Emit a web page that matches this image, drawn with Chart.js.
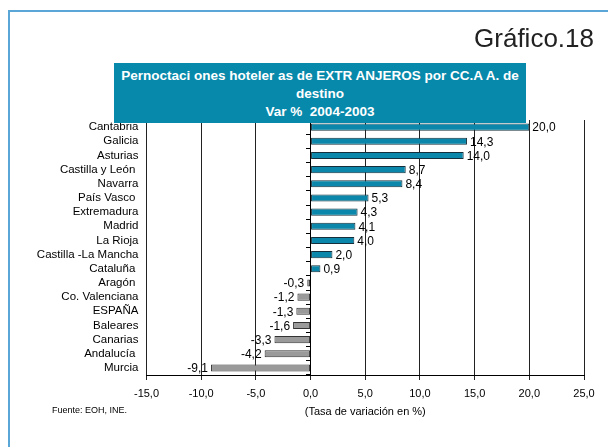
<!DOCTYPE html>
<html>
<head>
<meta charset="utf-8">
<script src="https://cdn.jsdelivr.net/npm/chart.js@4/dist/chart.umd.min.js"></script>
<style>
  html, body { margin: 0; padding: 0; background: #fff; }
  body { width: 608px; height: 447px; position: relative; overflow: hidden; font-family: "Liberation Sans", Arial, sans-serif; }
  #frame { position: absolute; left: 8px; top: 10px; width: 700px; height: 600px; border-left: 2px solid #5aa6d6; border-top: 2px solid #5aa6d6; box-sizing: border-box; }
  #wrap { position: absolute; left: 0; top: 0; width: 608px; height: 447px; }
  #num { position: absolute; right: 14px; top: 25px; font-size: 26px; color: #222; line-height: 1; }
  #titlebox { position: absolute; left: 114px; top: 63px; width: 412px; height: 60px; background: #0789ab; color: #fff; font-weight: bold; font-size: 13.5px; text-align: center; line-height: 18px; padding-top: 4px; box-sizing: border-box; white-space: nowrap; }
  #src { position: absolute; left: 52px; top: 405px; font-size: 9px; color: #000; }
</style>
</head>
<body>
<div id="frame"></div>
<div id="wrap"><canvas id="c" width="608" height="447"></canvas></div>
<div id="num">Gráfico.18</div>
<div id="titlebox">Pernoctaci ones hoteler as de EXTR ANJEROS por CC.A A. de<br>destino<br>Var %&nbsp; 2004-2003</div>
<div id="src">Fuente: EOH, INE.</div>
<script>
const categories = ["Cantabria", "Galicia", "Asturias", "Castilla y León ", "Navarra", "País Vasco ", "Extremadura", "Madrid", "La Rioja", "Castilla -La Mancha", "Cataluña ", "Aragón ", "Co. Valenciana", "ESPAÑA", "Baleares", "Canarias", "Andalucía ", "Murcia"];
const values = [20.0, 14.3, 14.0, 8.7, 8.4, 5.3, 4.3, 4.1, 4.0, 2.0, 0.9, -0.3, -1.2, -1.3, -1.6, -3.3, -4.2, -9.1];
const xTicks = [-15, -10, -5, 0, 5, 10, 15, 20, 25];
const axisTitle = "(Tasa de variación en %)";

const fmt = v => v.toFixed(1).replace('.', ',');
const FONT = '"Liberation Sans", Arial, sans-serif';

const valueLabels = {
  id: 'valueLabels',
  afterDatasetsDraw(chart) {
    const ctx = chart.ctx;
    const meta = chart.getDatasetMeta(0);
    ctx.save();
    ctx.font = '12px ' + FONT;
    ctx.fillStyle = '#000';
    ctx.textBaseline = 'middle';
    meta.data.forEach((bar, i) => {
      const v = chart.data.datasets[0].data[i];
      if (v >= 0) { ctx.textAlign = 'left'; ctx.fillText(fmt(v), bar.x + 3, bar.y + 1); }
      else { ctx.textAlign = 'right'; ctx.fillText(fmt(v), bar.x - 3, bar.y + 1); }
    });
    ctx.restore();
  }
};

new Chart(document.getElementById('c'), {
  type: 'bar',
  data: {
    labels: categories,
    datasets: [{
      data: values,
      backgroundColor: values.map(v => v >= 0 ? '#0a87aa' : '#9a9a9a'),
      borderColor: values.map(v => v >= 0 ? '#15303c' : '#333333'),
      borderWidth: 1,
      borderSkipped: false,
      categoryPercentage: 1,
      barPercentage: 0.5
    }]
  },
  options: {
    indexAxis: 'y',
    responsive: false,
    animation: false,
    devicePixelRatio: 1,
    layout: { padding: { left: 0, right: 24, top: 120, bottom: 0 } },
    plugins: { legend: { display: false }, tooltip: { enabled: false }, title: { display: false } },
    scales: {
      x: {
        type: 'linear',
        min: -15, max: 25,
        afterBuildTicks: s => { s.ticks = xTicks.map(v => ({ value: v })); },
        afterFit: s => { s.height = 72; },
        ticks: { callback: v => fmt(v), color: '#000', font: { family: FONT, size: 11 }, padding: 7, maxRotation: 0 },
        grid: { color: '#222', lineWidth: 1, tickLength: 5, drawTicks: true },
        border: { display: true, color: '#000', width: 1 },
        title: { display: true, text: axisTitle, color: '#000', font: { family: FONT, size: 11 }, padding: { top: 0, bottom: 28 } }
      },
      y: {
        type: 'category',
        position: 'left',
        afterFit: s => { s.width = 146.5; },
        grid: { display: false, drawTicks: false },
        border: { display: false },
        ticks: { color: '#000', font: { family: FONT, size: 11.5 }, padding: 8, autoSkip: false }
      },
      y2: {
        type: 'category',
        axis: 'y',
        position: { x: 0 },
        offset: true,
        grid: { offset: true, drawOnChartArea: false, drawTicks: true, tickLength: 4, color: '#000' },
        border: { display: true, color: '#000', width: 1 },
        ticks: { display: false, autoSkip: false }
      }
    }
  },
  plugins: [valueLabels]
});
</script>
</body>
</html>
